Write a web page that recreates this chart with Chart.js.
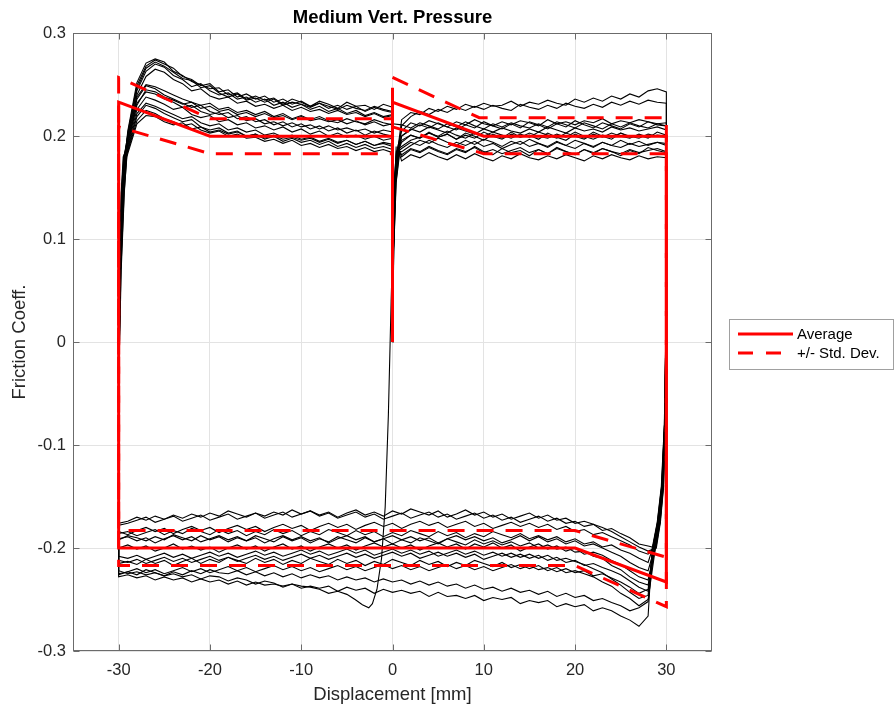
<!DOCTYPE html>
<html>
<head>
<meta charset="utf-8">
<script src="https://cdn.jsdelivr.net/npm/chart.js@4.4.0/dist/chart.umd.min.js"></script>
<style>
  html, body { margin: 0; padding: 0; background: #fff; }
</style>
</head>
<body>
<canvas id="graficoAtrito" width="896" height="710"></canvas>
<script>
// deslocamento [mm], grade comum das curvas
const dispGrid = [-30,-29,-28,-27,-26,-25,-24,-23,-22,-21,-20,-19,-18,-17,-16,-15,-14,-13,-12,-11,-10,-9,-8,-7,-6,-5,-4,-3,-2,-1,0,1,2,3,4,5,6,7,8,9,10,11,12,13,14,15,16,17,18,19,20,21,22,23,24,25,26,27,28,29,30];

const xTicks = [-30, -20, -10, 0, 10, 20, 30];
const yTicks = [-0.3, -0.2, -0.1, 0, 0.1, 0.2, 0.3];
const yTickLabels = ['-0.3', '-0.2', '-0.1', '0', '0.1', '0.2', '0.3'];

// trechos de transicao: inicio em 0, reversao em +30, reversao em -30
const startY = [0, 0.09, 0.155, 0.185];
const revY = [0.04, -0.08, -0.14, -0.175, -0.2];
const riseY = [-0.04, 0.07, 0.145, 0.18];
const partidaX = [[0,0.08,0.25,0.55],[0,0.1,0.3,0.65],[0,0.06,0.2,0.45],[0,0.12,0.35,0.7],[0,0.07,0.22,0.5],[0,0.09,0.28,0.6],
  [0,0.14,0.4,0.8],[0,0.11,0.32,0.68],[0,0.05,0.18,0.42],[0,0.08,0.26,0.58],[0,0.13,0.38,0.75],[0,0.07,0.24,0.52],[0,0.1,0.3,0.62]];
const reversaoX = [[30,29.85,29.6,29.2,28.7],[30,29.88,29.65,29.3,28.8],[30,29.8,29.5,29.05,28.5],[30,29.9,29.7,29.35,28.9],
  [30,29.82,29.55,29.1,28.6],[30,29.87,29.62,29.25,28.75],[30,29.78,29.45,29.0,28.45],[30,29.84,29.58,29.15,28.65],
  [30,29.8,29.52,29.1,28.55],[30,29.86,29.63,29.28,28.8],[30,29.83,29.57,29.18,28.7],[30,29.79,29.48,29.02,28.5],[30,29.9,29.68,29.32,28.85]];
const subidaX = [[-30,-29.85,-29.6,-29.3],[-30,-29.88,-29.65,-29.35],[-30,-29.8,-29.5,-29.2],[-30,-29.9,-29.7,-29.45],
  [-30,-29.82,-29.55,-29.25],[-30,-29.9,-29.72,-29.5],[-30,-29.78,-29.45,-29.15],[-30,-29.86,-29.62,-29.35],
  [-30,-29.75,-29.4,-29.1],[-30,-29.83,-29.58,-29.28],[-30,-29.88,-29.68,-29.4],[-30,-29.8,-29.52,-29.22],[-30,-29.72,-29.38,-29.12],
  [-30,-29.84,-29.6,-29.32]];

// ida (x = -29 .. 30), coef. x 1000
const sobe1 = [205,252,271,275,272,263,259,253,250,246,247,240,242,236,239,235,237,231,236,233,229,234,231,227,233,229,230,226,231,228,
  216,223,221,227,224,229,226,231,228,232,229,230,234,229,233,231,235,232,230,236,233,237,234,239,236,241,238,244,246,243];
const sobe2 = [200,246,266,272,268,262,256,254,247,249,242,238,241,235,237,233,236,230,233,231,228,232,229,226,230,227,225,229,226,224,
  210,219,224,221,226,223,228,225,229,226,230,227,225,231,228,226,230,227,232,229,227,231,228,233,230,234,231,235,233,232];
const sobe3 = [198,240,258,265,262,255,251,244,246,239,236,238,232,234,229,231,227,230,225,228,224,226,222,225,221,223,219,222,218,220,
  205,213,210,215,212,209,214,211,216,212,210,214,211,215,213,210,216,212,214,211,215,213,217,212,215,213,216,214,212,213];
const sobe4 = [196,238,250,248,244,240,236,233,230,232,226,228,223,225,221,224,219,222,217,220,216,219,215,213,217,214,212,216,213,211,
  200,207,204,209,206,203,208,205,202,207,204,208,205,203,207,204,209,206,203,208,205,207,204,209,206,208,205,207,209,206];
const sobe5 = [194,232,243,241,236,233,228,230,224,221,223,218,220,215,217,212,214,210,213,209,211,207,210,206,208,205,207,203,206,204,
  196,201,198,203,199,202,197,201,198,204,200,197,202,199,203,200,198,202,199,204,200,197,201,199,203,200,198,202,200,199];
const sobe6 = [190,226,238,235,231,226,228,221,218,220,214,216,211,213,208,210,206,209,204,207,202,205,200,203,199,201,197,200,196,198,
  188,194,191,196,192,189,194,191,195,190,193,188,192,195,190,193,189,194,191,188,193,190,194,191,189,193,190,192,194,191];
const sobe7 = [188,222,232,229,225,221,217,219,213,210,212,206,208,204,206,201,203,199,201,197,199,195,198,194,196,192,195,191,193,190,
  182,188,185,190,186,183,188,185,189,184,187,183,186,189,184,187,183,188,185,182,187,184,188,185,183,187,184,186,188,185];
const sobe8 = [185,215,225,222,217,214,210,212,206,203,205,200,202,198,199,195,197,193,196,191,193,189,192,188,190,186,189,185,187,184,
  176,182,179,184,180,177,182,178,183,179,176,181,178,183,179,177,181,178,182,179,176,181,178,182,179,177,181,178,180,179];
const sobe9 = [183,212,220,219,214,211,213,207,209,204,206,202,204,200,202,198,201,197,199,196,198,194,197,193,196,192,195,191,194,192,
  190,196,199,203,200,205,201,198,203,200,204,201,198,202,199,204,201,198,203,200,197,202,199,203,200,198,202,199,201,200];
const sobe11 = [203,249,268,274,270,266,258,255,249,251,243,245,238,241,236,239,233,236,231,234,229,232,227,230,226,229,224,228,225,223,
  194,201,198,204,199,202,197,203,200,196,202,198,204,199,201,197,203,199,196,202,198,204,200,197,203,199,201,198,204,201];
const sobe12 = [201,244,263,270,267,259,255,248,251,244,240,242,236,238,233,236,230,233,228,231,226,229,224,227,222,225,220,223,219,221,
  180,187,184,189,185,182,187,184,190,185,182,188,184,186,181,187,183,189,185,182,187,183,188,185,181,186,183,189,186,184];
const sobe13 = [193,236,249,246,240,236,232,228,230,224,221,223,217,219,214,216,211,214,209,212,207,210,205,208,203,206,201,205,202,200,
  200,206,211,208,213,209,206,211,208,214,210,207,212,208,214,211,207,212,209,215,211,208,213,210,207,212,209,214,211,210];
const sobe14 = [186,219,230,227,222,218,214,216,209,206,208,203,205,200,202,197,200,195,198,194,196,192,195,190,193,189,192,188,190,187,
  185,191,196,193,198,194,191,196,192,197,194,190,195,192,197,193,190,195,191,196,193,189,194,191,196,192,195,191,194,193];
const sobe10 = [192,230,245,243,238,235,231,233,227,229,224,226,221,223,219,222,218,220,216,219,215,217,214,216,212,215,211,214,210,212,
  211,208,213,210,207,212,209,214,210,207,212,209,213,210,208,212,209,214,211,208,213,210,207,212,209,213,210,208,212,210];

// volta (x = 28 .. -30), coef. x 1000
const desce1 = [-236,-233,-228,-221,-217,-210,-208,-203,-204,-199,-201,-197,-200,-195,-198,-194,-197,-193,-196,-192,
  -197,-194,-191,-196,-193,-190,-195,-192,-196,-191,-194,-190,-195,-192,-189,-194,-191,-195,-190,-193,
  -189,-194,-191,-188,-193,-190,-194,-189,-192,-188,-193,-190,-187,-192,-189,-193,-190,-188,-192];
const desce2 = [-250,-256,-249,-244,-237,-233,-228,-225,-222,-224,-219,-222,-217,-220,-216,-219,-214,-218,-215,-212,
  -217,-214,-218,-213,-216,-212,-217,-214,-211,-216,-213,-217,-212,-215,-211,-216,-213,-210,-215,-212,
  -216,-211,-214,-210,-215,-212,-209,-214,-211,-215,-210,-213,-217,-212,-215,-211,-216,-213,-215];
const desce3 = [-214,-210,-205,-202,-197,-199,-194,-196,-191,-194,-189,-192,-188,-191,-186,-190,-187,-184,-189,-186,
  -190,-185,-188,-184,-189,-186,-183,-188,-185,-189,-184,-187,-183,-188,-185,-182,-187,-184,-188,-183,
  -186,-182,-187,-184,-188,-183,-186,-182,-187,-184,-181,-186,-183,-187,-182,-185,-188,-184,-186];
const desce4 = [-198,-196,-190,-186,-181,-183,-177,-174,-176,-171,-173,-168,-171,-166,-169,-172,-167,-170,-165,-168,
  -163,-167,-170,-164,-168,-165,-162,-167,-164,-169,-165,-168,-163,-166,-170,-165,-168,-164,-167,-163,
  -168,-165,-169,-166,-170,-167,-164,-169,-166,-170,-167,-171,-168,-172,-169,-173,-170,-174,-176];
const desce5 = [-206,-203,-197,-193,-189,-185,-187,-182,-184,-179,-182,-177,-180,-176,-179,-175,-178,-181,-176,-179,
  -174,-177,-180,-175,-178,-174,-177,-181,-176,-179,-175,-178,-182,-177,-180,-176,-179,-183,-178,-181,
  -177,-180,-184,-179,-182,-178,-181,-185,-180,-183,-179,-182,-186,-181,-184,-180,-183,-187,-184];
const desce6 = [-242,-238,-232,-226,-222,-219,-215,-217,-212,-214,-209,-212,-207,-210,-206,-209,-205,-208,-211,-206,
  -209,-205,-208,-204,-207,-210,-205,-208,-204,-207,-210,-206,-209,-205,-208,-211,-207,-210,-206,-209,
  -212,-208,-211,-207,-210,-213,-209,-212,-208,-211,-214,-210,-213,-209,-212,-215,-211,-214,-212];
const desce7 = [-266,-276,-270,-266,-261,-258,-261,-255,-257,-254,-257,-251,-253,-251,-254,-248,-250,-248,-251,-246,
  -249,-246,-247,-243,-247,-242,-244,-241,-243,-240,-244,-239,-241,-238,-242,-237,-239,-237,-239,-235,
  -237,-235,-236,-233,-236,-232,-235,-231,-233,-230,-233,-229,-231,-228,-231,-227,-229,-226,-228];
const desce8 = [-252,-258,-261,-256,-253,-249,-251,-246,-248,-244,-247,-242,-245,-241,-243,-239,-242,-238,-240,-236,
  -239,-235,-237,-233,-236,-232,-235,-231,-233,-230,-233,-229,-231,-228,-231,-227,-229,-226,-229,-225,
  -228,-224,-227,-223,-226,-222,-225,-224,-221,-225,-222,-226,-223,-227,-224,-221,-226,-223,-225];
const desce9 = [-240,-244,-238,-233,-229,-225,-227,-222,-224,-220,-223,-219,-221,-217,-220,-216,-219,-222,-218,-221,
  -217,-220,-216,-219,-222,-218,-221,-217,-220,-216,-219,-222,-218,-221,-217,-220,-223,-219,-222,-218,
  -221,-217,-220,-223,-219,-222,-218,-221,-224,-220,-223,-219,-222,-225,-221,-224,-220,-223,-226];
const desce11 = [-231,-228,-222,-216,-212,-207,-204,-206,-200,-203,-198,-201,-196,-199,-203,-197,-200,-195,-199,-196,
  -201,-196,-199,-195,-198,-202,-197,-200,-196,-199,-195,-198,-202,-197,-200,-196,-199,-203,-198,-201,
  -196,-199,-203,-198,-201,-197,-200,-204,-199,-202,-198,-201,-196,-200,-203,-198,-201,-197,-200];
const desce12 = [-222,-219,-214,-208,-204,-200,-196,-198,-193,-196,-191,-194,-189,-193,-188,-192,-195,-190,-193,-189,
  -192,-188,-191,-195,-190,-193,-189,-192,-188,-191,-194,-189,-192,-188,-191,-195,-190,-193,-189,-192,
  -188,-191,-195,-190,-193,-189,-192,-188,-191,-194,-189,-192,-188,-191,-195,-190,-193,-189,-191];
const desce13 = [-246,-249,-243,-236,-230,-224,-220,-216,-213,-210,-212,-207,-210,-206,-209,-205,-208,-204,-207,-203,
  -206,-202,-205,-208,-203,-206,-202,-205,-201,-204,-207,-202,-205,-201,-204,-207,-203,-206,-202,-205,
  -208,-204,-207,-203,-206,-209,-205,-208,-204,-207,-210,-206,-209,-205,-208,-211,-207,-210,-208];
const desce14 = [-203,-199,-194,-189,-184,-180,-177,-179,-174,-176,-171,-174,-169,-172,-175,-170,-173,-168,-171,-166,
  -169,-172,-167,-170,-165,-168,-171,-166,-169,-172,-167,-170,-165,-168,-171,-166,-169,-164,-167,-170,
  -165,-168,-171,-166,-169,-172,-167,-170,-173,-168,-171,-174,-169,-172,-175,-170,-173,-176,-178];

// primeiro ciclo (comeca andando para a esquerda): queda em 0, depois x = -5 .. -30
const dipX = [0.4, 0.15, -0.15, -0.45, -0.8, -1.2, -1.7, -2.2, -2.6, -3.3, -4.1];
const dipY = [0.19, 0.13, 0.04, -0.07, -0.16, -0.21, -0.24, -0.254, -0.258, -0.255, -0.25];
const desce10 = [-245,-242,-244,-240,-238,-237,-235,-238,-234,-232,-235,-231,-229,-232,-228,-227,-230,-226,-228,-225,
  -227,-224,-226,-223,-225,-222];

// media e +/- desvio padrao
const mediaX = [0, 0, 0, 10, 30, 30, 20, -30, -30, -20, 0];
const mediaY = [0, 0.247, 0.233, 0.2, 0.2, -0.233, -0.2, -0.2, 0.233, 0.2, 0.2];
const desvSupX = [0, 9.5, 30, 30, 20, -30, -30, -20, 0];
const desvSupY = [0.257, 0.218, 0.218, -0.209, -0.183, -0.183, 0.257, 0.217, 0.217];
const desvInfX = [0, 10, 30, 30, 20, -30, -30, -20, 0];
const desvInfY = [0.209, 0.183, 0.183, -0.257, -0.217, -0.217, 0.209, 0.183, 0.183];

const ciclos = [
  [sobe1, desce1], [sobe2, desce2], [sobe3, desce3], [sobe4, desce4], [sobe5, desce5], [sobe6, desce6], [sobe7, desce7],
  [sobe8, desce8], [sobe9, desce9], [sobe11, desce11], [sobe12, desce12], [sobe13, desce13], [sobe14, desce14]
];

function pares(xs, ys) {
  return xs.map((x, i) => ({ x: x, y: ys[i] }));
}

function montarCiclo(n) {
  const sobe = ciclos[n][0], desce = ciclos[n][1];
  let pts = pares(partidaX[n], startY);
  for (let k = 30; k < 60; k++) pts.push({ x: dispGrid[k + 1], y: sobe[k] / 1000 });
  pts = pts.concat(pares(reversaoX[n], revY));
  for (let j = 0; j < desce.length; j++) pts.push({ x: dispGrid[58 - j], y: desce[j] / 1000 });
  pts = pts.concat(pares(subidaX[n], riseY));
  for (let k = 0; k < 30; k++) pts.push({ x: dispGrid[k + 1], y: sobe[k] / 1000 });
  return pts;
}

function montarPrimeiro() {
  let pts = pares(dipX, dipY);
  for (let j = 0; j < desce10.length; j++) pts.push({ x: dispGrid[25 - j], y: desce10[j] / 1000 });
  pts = pts.concat(pares(subidaX[ciclos.length], riseY));
  for (let k = 0; k < 60; k++) pts.push({ x: dispGrid[k + 1], y: sobe10[k] / 1000 });
  return pts;
}

const linhaPreta = { borderColor: '#000000', borderWidth: 1.1, pointRadius: 0, showLine: true, order: 2 };

var dadosAtrito = { datasets: [] };
for (let n = 0; n < ciclos.length; n++) {
  dadosAtrito.datasets.push(Object.assign({ label: '', data: montarCiclo(n) }, linhaPreta));
}
dadosAtrito.datasets.push(Object.assign({ label: '', data: montarPrimeiro() }, linhaPreta));

const dsMedia = {
  label: 'Average', data: pares(mediaX, mediaY), borderColor: '#ff0000', borderWidth: 3,
  pointRadius: 0, showLine: true, order: 1
};
const dsDesvio = {
  label: '+/- Std. Dev.', data: pares(desvSupX, desvSupY), borderColor: '#ff0000', borderWidth: 3,
  borderDash: [17, 12], pointRadius: 0, showLine: true, order: 1
};
dadosAtrito.datasets.push(dsMedia, dsDesvio, {
  label: '', data: pares(desvInfX, desvInfY), borderColor: '#ff0000', borderWidth: 3,
  borderDash: [17, 12], pointRadius: 0, showLine: true, order: 1
});

const fonte = "'Liberation Sans', Arial, Helvetica, sans-serif";
Chart.defaults.font.family = fonte;

// moldura estilo MATLAB + legenda
const moldura = {
  id: 'moldura',
  afterDraw(chart) {
    const { ctx, chartArea: a, scales } = chart;
    const L = Math.round(a.left) + 0.5, R = Math.round(a.right) - 0.5;
    const T = Math.round(a.top) + 0.5, B = Math.round(a.bottom) - 0.5;
    ctx.save();
    ctx.strokeStyle = '#6b6b6b';
    ctx.lineWidth = 1;
    ctx.strokeRect(L, T, R - L, B - T);
    ctx.beginPath();
    scales.x.ticks.forEach(function (t) {
      const px = Math.round(scales.x.getPixelForValue(t.value)) + 0.5;
      ctx.moveTo(px, B); ctx.lineTo(px, B - 6);
      ctx.moveTo(px, T); ctx.lineTo(px, T + 6);
    });
    scales.y.ticks.forEach(function (t) {
      const py = Math.round(scales.y.getPixelForValue(t.value)) + 0.5;
      ctx.moveTo(L, py); ctx.lineTo(L + 6, py);
      ctx.moveTo(R, py); ctx.lineTo(R - 6, py);
    });
    ctx.stroke();

    // legenda
    const bx = 729.5, by = 319.5, bw = 164, bh = 50;
    ctx.fillStyle = '#ffffff';
    ctx.fillRect(bx, by, bw, bh);
    ctx.strokeStyle = '#a0a0a0';
    ctx.strokeRect(bx, by, bw, bh);
    ctx.font = '15px ' + fonte;
    ctx.textBaseline = 'middle';
    ctx.textAlign = 'left';
    [dsMedia, dsDesvio].forEach(function (ds, i) {
      const ly = 334 + i * 19;
      ctx.beginPath();
      ctx.strokeStyle = ds.borderColor;
      ctx.lineWidth = ds.borderWidth;
      ctx.setLineDash(ds.borderDash ? [15, 13] : []);
      ctx.moveTo(738, ly); ctx.lineTo(793, ly);
      ctx.stroke();
      ctx.setLineDash([]);
      ctx.fillStyle = '#000000';
      ctx.fillText(ds.label, 797, ly + 1);
    });
    ctx.restore();
  }
};

const configAtrito = document.getElementById('graficoAtrito');
var graficoAtrito = new Chart(configAtrito, {
  type: 'scatter',
  data: dadosAtrito,
  options: {
    responsive: false,
    animation: false,
    events: [],
    layout: { padding: { left: 0, right: 184, top: 0, bottom: 0 } },
    plugins: {
      legend: { display: false },
      tooltip: { enabled: false },
      title: {
        display: true, fullSize: false, text: 'Medium Vert. Pressure', color: '#000000',
        font: { size: 18.5, weight: 'bold' }, padding: { top: 7, bottom: 4 }
      }
    },
    scales: {
      x: {
        type: 'linear', min: -35, max: 35,
        afterBuildTicks: function (s) { s.ticks = xTicks.map(function (v) { return { value: v }; }); },
        afterFit: function (s) { s.height = 59; },
        grid: { color: '#e3e3e3', lineWidth: 1, drawTicks: false },
        border: { display: false },
        ticks: { color: '#262626', font: { size: 16.5 }, padding: 10, callback: function (v) { return String(v); } },
        title: { display: true, text: 'Displacement [mm]', color: '#262626', font: { size: 18.5 }, padding: { top: 0, bottom: 4 } }
      },
      y: {
        type: 'linear', min: -0.3, max: 0.3,
        afterBuildTicks: function (s) { s.ticks = yTicks.map(function (v) { return { value: v }; }); },
        afterFit: function (s) { s.width = 73; },
        grid: { color: '#e3e3e3', lineWidth: 1, drawTicks: false },
        border: { display: false },
        ticks: { color: '#262626', font: { size: 16.5 }, padding: 7, callback: function (v, i) { return yTickLabels[i]; } },
        title: { display: true, text: 'Friction Coeff.', color: '#262626', font: { size: 18.5 }, padding: { top: 9, bottom: 0 } }
      }
    }
  },
  plugins: [moldura]
});
</script>
</body>
</html>
